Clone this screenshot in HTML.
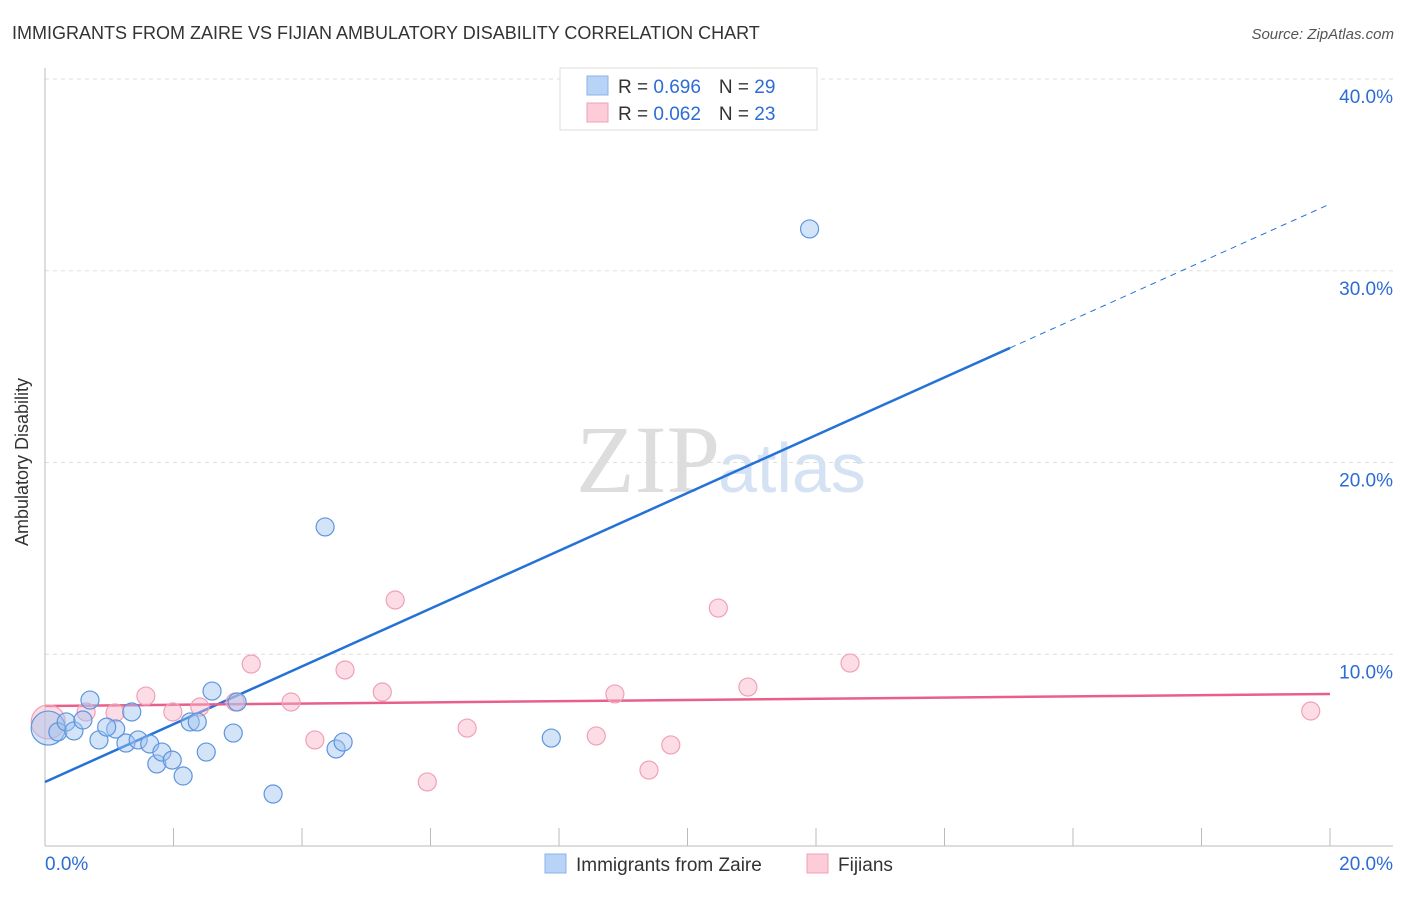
<!DOCTYPE html>
<html><head><meta charset="utf-8"><style>
body{margin:0;background:#fff;font-family:"Liberation Sans",sans-serif;}
</style></head><body>
<svg width="1406" height="892" xmlns="http://www.w3.org/2000/svg" style="font-family:'Liberation Sans',sans-serif">
<text x="12" y="39" font-size="18" fill="#333">IMMIGRANTS FROM ZAIRE VS FIJIAN AMBULATORY DISABILITY CORRELATION CHART</text>
<text x="1394" y="39" font-size="15" fill="#555" font-style="italic" text-anchor="end">Source: ZipAtlas.com</text>
<text x="720" y="492" font-size="96" fill="#ddd" text-anchor="end" font-family="Liberation Serif">ZIP</text>
<text x="718" y="492" font-size="70" fill="#d4e2f4">atlas</text>
<g id="grid"></g>
<line x1="45" y1="68" x2="45" y2="846" stroke="#bbb"/>
<line x1="45" y1="846" x2="1393" y2="846" stroke="#bbb"/>
<g id="ticks"></g>
<text x="22" y="456" font-size="18" fill="#333" text-anchor="middle" transform="rotate(-90 28 456)">Ambulatory Disability</text>
<g id="trend"></g>
<g id="points"></g>
<g>
<rect x="560" y="68" width="257" height="62" fill="#fff" stroke="#ddd"/>
<rect x="587" y="76" width="21" height="19" fill="#b8d3f5" stroke="#8ab3e8"/>
<rect x="587" y="103" width="21" height="19" fill="#fcccd9" stroke="#f0a0b8"/>
<text x="618" y="93" font-size="19" fill="#333">R = <tspan fill="#2c6cd6">0.696</tspan><tspan dx="18">N = </tspan><tspan fill="#2c6cd6">29</tspan></text>
<text x="618" y="120" font-size="19" fill="#333">R = <tspan fill="#2c6cd6">0.062</tspan><tspan dx="18">N = </tspan><tspan fill="#2c6cd6">23</tspan></text>
</g>
<g>
<rect x="545" y="854" width="21" height="19" fill="#b8d3f5" stroke="#8ab3e8"/>
<text x="576" y="871" font-size="19" fill="#333">Immigrants from Zaire</text>
<rect x="807" y="854" width="21" height="19" fill="#fcccd9" stroke="#f0a0b8"/>
<text x="838" y="871" font-size="19" fill="#333">Fijians</text>
</g>
<text x="45" y="870" font-size="19" fill="#2c6cd6">0.0%</text>
<text x="1393" y="870" font-size="19" fill="#2c6cd6" text-anchor="end">20.0%</text>
</svg>
<script>
const yTicks=[10,20,30,40];
const yTickLabels=["10.0%","20.0%","30.0%","40.0%"];
const xTicks=[2,4,6,8,10,12,14,16,18,20];
const zaireX=[0.05,0.2,0.33,0.45,0.59,0.7,0.84,1.1,0.96,1.26,1.35,1.45,1.63,1.74,1.82,1.98,2.15,2.26,2.37,2.51,2.6,2.93,2.99,3.55,4.36,4.53,4.64,7.88,11.9];
const zaireY=[6.15,5.95,6.47,6.0,6.57,7.61,5.53,6.1,6.2,5.37,6.99,5.53,5.32,4.28,4.9,4.48,3.65,6.47,6.47,4.9,8.08,5.89,7.51,2.71,16.64,5.06,5.42,5.63,32.18];
const fijiX=[0.05,0.64,1.09,1.57,1.99,2.41,2.96,3.21,3.83,4.2,4.67,5.25,5.45,5.95,6.57,8.58,8.87,9.4,9.74,10.48,10.94,12.53,19.7];
const fijiY=[6.47,6.99,6.94,7.82,6.99,7.25,7.51,9.49,7.51,5.53,9.18,8.03,12.83,3.34,6.15,5.74,7.93,3.96,5.27,12.41,8.29,9.54,7.04];
const zaireTrend=[3.34,1.507];
const fijiTrend=[7.3,0.0315];
const NS="http://www.w3.org/2000/svg";
const sx=v=>45+v*64.25, sy=v=>846-v*19.175;
function mk(t,a,p){const e=document.createElementNS(NS,t);for(const k in a)e.setAttribute(k,a[k]);document.getElementById(p).appendChild(e);return e;}
yTicks.forEach((t,i)=>{
 const l=mk('line',{x1:45,x2:1393,y1:sy(t),y2:sy(t),stroke:'#ddd','stroke-dasharray':'4,4'},'grid');
 
 
 const tx=mk('text',{x:1393,y:sy(t)+24,'font-size':19,fill:'#2c6cd6','text-anchor':'end'},'grid');
 tx.textContent=yTickLabels[i];
 
 
});
mk('line',{x1:45,x2:1393,y1:79,y2:79,stroke:'#ddd','stroke-dasharray':'4,4'},'grid');
xTicks.forEach(t=>{
 const l=mk('line',{x1:sx(t),x2:sx(t),y1:828,y2:846,stroke:'#bbb'},'ticks');
 
 
});
const bEnd=15.02;
let l1=mk('line',{x1:sx(0),y1:sy(zaireTrend[0]),x2:sx(bEnd),y2:sy(zaireTrend[0]+zaireTrend[1]*bEnd),stroke:'#2472d8','stroke-width':2.5},'trend');


let l2=mk('line',{x1:sx(bEnd),y1:sy(zaireTrend[0]+zaireTrend[1]*bEnd),x2:sx(20),y2:sy(zaireTrend[0]+zaireTrend[1]*20),stroke:'#2472d8','stroke-width':1,'stroke-dasharray':'6,5'},'trend');


let l3=mk('line',{x1:sx(0),y1:sy(fijiTrend[0]),x2:sx(20),y2:sy(fijiTrend[0]+fijiTrend[1]*20),stroke:'#e8608a','stroke-width':2.5},'trend');


function pts(X,Y,fill,stroke,name){
 X.forEach((x,i)=>{
  const c=mk('circle',{cx:sx(x),cy:sy(Y[i]),r:(i===0?17:9),fill:fill,stroke:stroke,'stroke-width':1.2},'points');
  
  
 });
}
pts(fijiX,fijiY,'rgba(248,180,200,0.45)','#f0a0b8','fijian-point');
pts(zaireX,zaireY,'rgba(160,195,240,0.45)','#5e95de','zaire-point');
</script>
</body></html>
